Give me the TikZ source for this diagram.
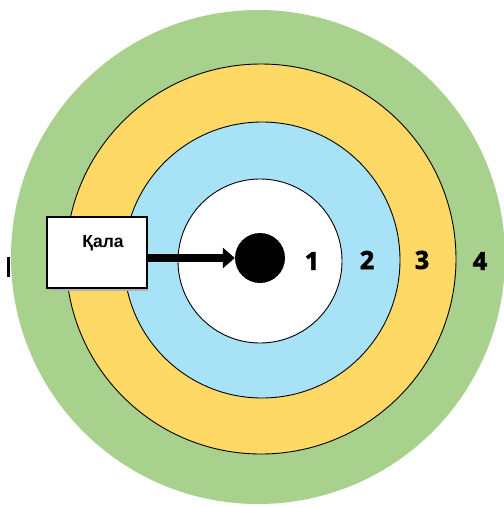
\documentclass[tikz,border=0pt]{standalone}
\usepackage{fontspec}
\setmainfont{Liberation Sans}
\newfontfamily\numfont[BoldFeatures={FakeBold=2.5}]{Open Sans}
\usetikzlibrary{arrows.meta}
\definecolor{ringgreen}{HTML}{A9D18E}
\definecolor{ringyellow}{HTML}{FFD966}
\definecolor{ringblue}{HTML}{A8E2F6}
\tikzset{
  ring/.style={draw=black, line width=0.9pt},
  numlabel/.style={font=\numfont\bfseries\fontsize{25}{25}\selectfont, inner sep=0pt},
  citybox/.style={draw=black, line width=2pt, fill=white, minimum width=100pt, minimum height=71pt, inner sep=0pt},
  bigarrow/.style={line width=8pt, -{Triangle[length=12pt,width=20pt]}}
}
\begin{document}
\begin{tikzpicture}[x=1pt,y=-1pt]
\useasboundingbox (0,0) rectangle (504,507);
\clip (0,0) rectangle (504,507);
\fill[white] (0,0) rectangle (504,507);
\fill[ringgreen] (258,257) circle (247);
\filldraw[ring, fill=ringyellow] (261,259) circle (195);
\filldraw[ring, fill=ringblue] (262,260) circle (138);
\filldraw[ring, fill=white] (260,261) circle (82);
\fill[black] (7,257) rectangle (10,277);
\node[circle, fill=black, minimum size=50pt, inner sep=0pt] (dot) at (260,258) {};
\node[numlabel] (n1) at (312,261) {1};
\node[numlabel] (n2) at (367,260) {2};
\node[numlabel] (n3) at (422,260) {3};
\node[numlabel] (n4) at (480,261) {4};
\fill[black!30] (52,221) rectangle (148,290.5);
\node[citybox] (box) at (97,252.5) {};
\node[font=\bfseries\fontsize{17.5}{17.5}\selectfont, inner sep=0pt] (city) at (103,243) {Қала};
\draw[bigarrow] (box.east |- dot.west) -- (dot.west);
\end{tikzpicture}
\end{document}
